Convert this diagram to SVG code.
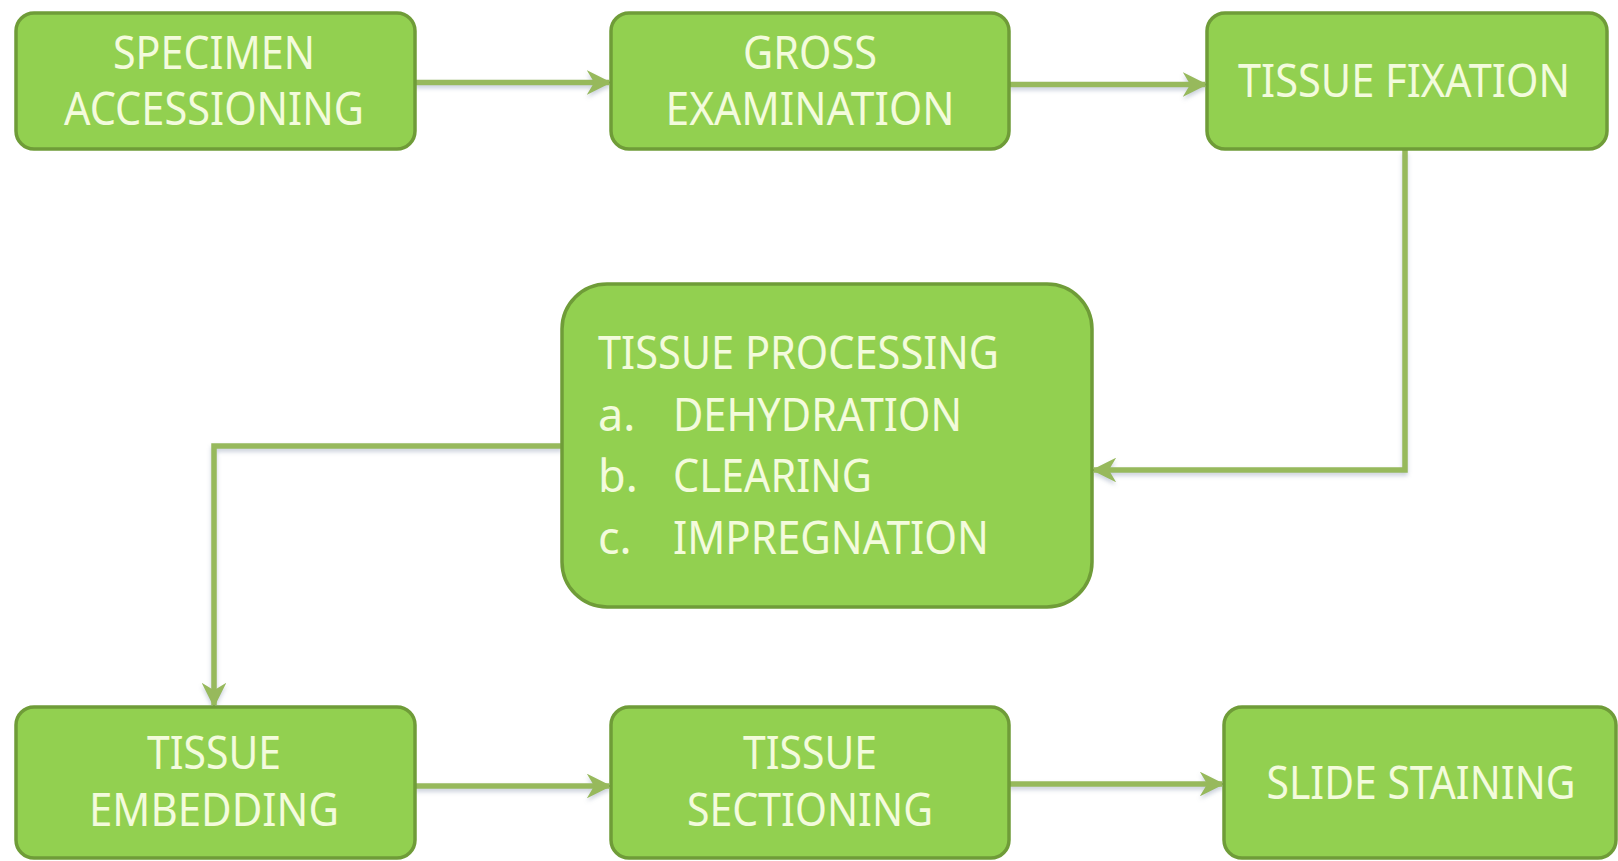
<svg xmlns="http://www.w3.org/2000/svg" width="1618" height="861" viewBox="0 0 1618 861">
<style>
.box{fill:#92d050;stroke:#6f9c38;stroke-width:3.5}
.t{font-family:"Noto Sans","Open Sans",sans-serif;font-size:45px;fill:#f3fbdc}
.c{text-anchor:middle}
.ln{fill:none;stroke:#97b95c;stroke-width:5.5;marker-end:url(#ah);filter:url(#sh)}
</style>
<defs>
<marker id="ah" viewBox="0 0 10 10" refX="9" refY="5" markerWidth="4.5" markerHeight="4.5" orient="auto" markerUnits="strokeWidth">
<path d="M0,0 L10,5 L0,10 L3,5 Z" fill="#97b95c"/>
</marker>
<filter id="sh" filterUnits="userSpaceOnUse" x="0" y="0" width="1618" height="861">
<feDropShadow dx="0" dy="3" stdDeviation="2" flood-color="#8a98b0" flood-opacity="0.45"/>
</filter>
</defs>
<g id="connectors">
<path class="ln" d="M415,82.5 H609"/>
<path class="ln" d="M1009,84.5 H1205"/>
<path class="ln" d="M1405,150 V470 H1094"/>
<path class="ln" d="M562,446 H214 V705"/>
<path class="ln" d="M415,786 H609"/>
<path class="ln" d="M1009,784 H1222"/>
</g>
<g id="specimen-accessioning">
<rect class="box" x="16" y="13" width="399" height="136" rx="18"/>
<text class="t c" x="214" y="69" textLength="202" lengthAdjust="spacingAndGlyphs">SPECIMEN</text>
<text class="t c" x="214" y="125" textLength="300" lengthAdjust="spacingAndGlyphs">ACCESSIONING</text>
</g>
<g id="gross-examination">
<rect class="box" x="611" y="13" width="398" height="136" rx="18"/>
<text class="t c" x="810" y="69" textLength="134" lengthAdjust="spacingAndGlyphs">GROSS</text>
<text class="t c" x="810" y="125" textLength="289" lengthAdjust="spacingAndGlyphs">EXAMINATION</text>
</g>
<g id="tissue-fixation">
<rect class="box" x="1207" y="13" width="400" height="136" rx="18"/>
<text class="t c" x="1404" y="97" textLength="332" lengthAdjust="spacingAndGlyphs">TISSUE FIXATION</text>
</g>
<g id="tissue-processing">
<rect class="box" x="562" y="284" width="530" height="323" rx="45"/>
<text class="t" x="598" y="369" textLength="401" lengthAdjust="spacingAndGlyphs">TISSUE PROCESSING</text>
<text class="t" x="598" y="431">a.</text>
<text class="t" x="673" y="431" textLength="289" lengthAdjust="spacingAndGlyphs">DEHYDRATION</text>
<text class="t" x="598" y="492">b.</text>
<text class="t" x="673" y="492" textLength="199" lengthAdjust="spacingAndGlyphs">CLEARING</text>
<text class="t" x="598" y="554">c.</text>
<text class="t" x="673" y="554" textLength="316" lengthAdjust="spacingAndGlyphs">IMPREGNATION</text>
</g>
<g id="tissue-embedding">
<rect class="box" x="16" y="707" width="399" height="151" rx="18"/>
<text class="t c" x="214" y="769" textLength="134" lengthAdjust="spacingAndGlyphs">TISSUE</text>
<text class="t c" x="214" y="826" textLength="250" lengthAdjust="spacingAndGlyphs">EMBEDDING</text>
</g>
<g id="tissue-sectioning">
<rect class="box" x="611" y="707" width="398" height="151" rx="18"/>
<text class="t c" x="810" y="769" textLength="134" lengthAdjust="spacingAndGlyphs">TISSUE</text>
<text class="t c" x="810" y="826" textLength="246" lengthAdjust="spacingAndGlyphs">SECTIONING</text>
</g>
<g id="slide-staining">
<rect class="box" x="1224" y="707" width="392" height="151" rx="18"/>
<text class="t c" x="1421" y="799" textLength="309" lengthAdjust="spacingAndGlyphs">SLIDE STAINING</text>
</g>
</svg>
